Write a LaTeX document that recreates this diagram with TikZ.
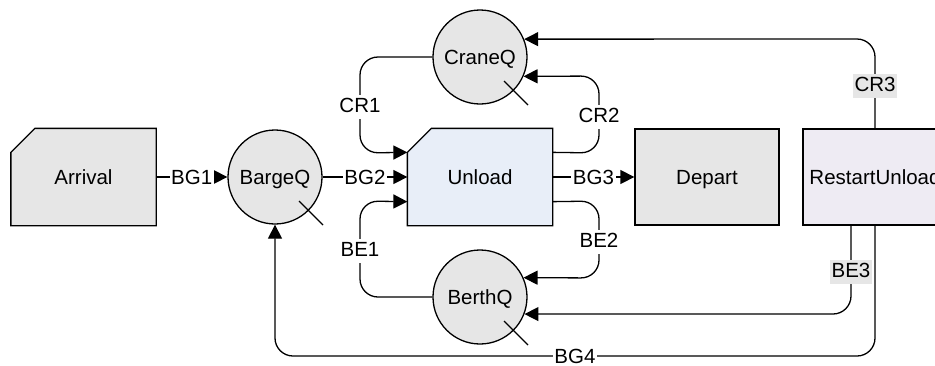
\documentclass[tikz,border=0pt]{standalone}
\usepackage{fontspec}
\setmainfont{Liberation Sans}
\usetikzlibrary{arrows.meta,backgrounds}
\definecolor{gr}{HTML}{E6E6E6}
\definecolor{blu}{HTML}{E8EEF8}
\definecolor{lav}{HTML}{EEEBF3}
\begin{document}
\begin{tikzpicture}[x=1pt,y=-1pt, font=\fontsize{20.5}{24}\selectfont, line width=1.3pt,
 box/.style={rectangle, minimum width=144pt, minimum height=96pt, inner sep=0pt, text height=15pt, text depth=0pt},
 queue/.style={circle, draw, fill=gr, minimum size=94pt, inner sep=0pt, text height=15pt, text depth=0pt},
 conn/.style={-{Triangle[length=14pt,width=14pt]}, rounded corners=18pt},
 lbl/.style={sharp corners, fill=white, inner xsep=1.5pt, inner ysep=2pt, text height=15.5pt, text depth=4.5pt, yshift=-2pt},
 glbl/.style={lbl, fill=gr},
 chamf/.style={draw=black, line width=1.3pt}]
\useasboundingbox (0,0) rectangle (935,365);
\clip (0,0) rectangle (935,365);

\node[box] (arr) at (83.5,177) {Arrival};
\node[queue] (bq) at (275,177) {BargeQ};
\node[queue] (cq) at (480,57) {CraneQ};
\node[queue] (bt) at (480,297) {BerthQ};
\node[box] (un) at (480,177) {Unload};
\node[box, draw, fill=gr] (dep) at (707,177) {Depart};
\node[box, draw, fill=lav] (ru) at (875,177) {RestartUnload};

\begin{scope}[on background layer]
\filldraw[chamf, fill=gr] (arr.south west) -- ([yshift=-24pt]arr.north west) -- ([xshift=24pt]arr.north west) -- (arr.north east) -- (arr.south east) -- cycle;
\filldraw[chamf, fill=blu] (un.south west) -- ([yshift=-24pt]un.north west) -- ([xshift=24pt]un.north west) -- (un.north east) -- (un.south east) -- cycle;
\end{scope}

\draw ([shift={(24,24)}]bq.center) -- ++(24,24);
\draw ([shift={(24,24)}]cq.center) -- ++(24,24);
\draw ([shift={(24,24)}]bt.center) -- ++(24,24);

\draw[conn] (arr) -- node[lbl]{BG1} (bq);
\draw[conn] (bq) -- node[lbl]{BG2} (un);
\draw[conn] (un) -- node[lbl]{BG3} (dep);

\draw[conn] (cq.west) -- (360,57) -- node[lbl]{CR1} (360,153) -- ([yshift=-24pt]un.north west);
\draw[conn] ([yshift=-24pt]un.north east) -- (599,153) -- node[lbl]{CR2} (599,76) -- (cq.-24);
\draw[conn] (ru.north) -- node[glbl]{CR3} (875,39) -- (cq.22.5);
\draw[conn] (bt.west) -- (360,297) -- node[lbl]{BE1} (360,201) -- ([yshift=24pt]un.south west);
\draw[conn] ([yshift=24pt]un.south east) -- (599,201) -- node[lbl]{BE2} (599,278) -- (bt.24);
\draw[conn] ([xshift=-24pt]ru.south) -- node[glbl]{BE3} (851,314) -- (bt.-21);
\draw[conn] (ru.south) -- (875,356) -- node[lbl]{BG4} (275,356) -- (bq.south);
\end{tikzpicture}
\end{document}
